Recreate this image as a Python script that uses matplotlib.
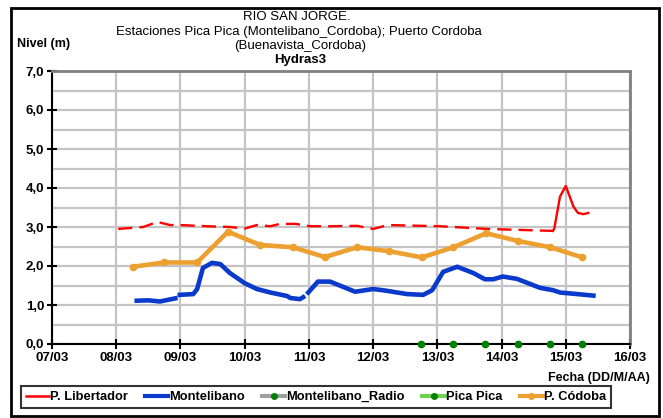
import matplotlib.pyplot as plt
from matplotlib.lines import Line2D
from matplotlib.patches import Rectangle
import numpy as np

plt.rcParams['font.family'] = ['Liberation Sans', 'DejaVu Sans']

# Niveles (m) - dia de marzo en fraccion
lib_dias = [8.03, 8.42, 8.64, 8.84, 8.99, 9.41, 9.77, 10.0, 10.19, 10.40, 10.55, 10.79,
            11.02, 11.33, 11.75, 12.0, 12.23, 13.04, 13.78, 14.80]
lib_nivel = [2.95, 3.0, 3.13, 3.05, 3.05, 3.02, 3.0, 2.96, 3.05, 3.02, 3.08, 3.08,
             3.02, 3.02, 3.03, 2.95, 3.05, 3.02, 2.95, 2.9]
# ultimo tramo P. Libertador
lib2_dias = [14.80, 14.82, 14.91, 15.0, 15.12, 15.19, 15.27, 15.35]
lib2_nivel = [2.9, 2.95, 3.78, 4.05, 3.52, 3.36, 3.33, 3.36]

mon_dias = [8.32, 8.50, 8.68, 8.92, np.nan, 8.99, 9.20, 9.26, 9.35, 9.49, 9.62, 9.77, 10.0,
            10.19, 10.40, 10.66, 10.71, 10.86, 10.91, np.nan, 10.99, 11.14, 11.33, 11.72,
            12.0, 12.19, 12.53, 12.78, 12.92, 13.09, 13.31, 13.56, 13.74, 13.87, 14.02,
            14.24, 14.60, 14.80, 14.91, 15.18, 15.43]
mon_nivel = [1.11, 1.12, 1.09, 1.17, np.nan, 1.26, 1.28, 1.41, 1.95, 2.08, 2.05, 1.82, 1.56,
             1.41, 1.32, 1.23, 1.18, 1.15, 1.20, np.nan, 1.32, 1.60, 1.60, 1.34,
             1.41, 1.37, 1.28, 1.26, 1.38, 1.85, 1.98, 1.82, 1.66, 1.66, 1.73,
             1.67, 1.44, 1.38, 1.32, 1.28, 1.24]

cor_dias = [8.26, 8.74, 9.26, 9.74, 10.24, 10.75, 11.25, 11.75, 12.25, 12.76, 13.25,
            13.76, 14.26, 14.76, 15.26]
cor_nivel = [1.98, 2.09, 2.09, 2.88, 2.54, 2.48, 2.23, 2.48, 2.38, 2.22, 2.48,
             2.84, 2.64, 2.48, 2.22]

pica_dias = [12.75, 13.25, 13.75, 14.25, 14.75, 15.25]
pica_nivel = [0, 0, 0, 0, 0, 0]

dias = list(range(7, 17))
etiquetas = ["%02d/03" % d for d in dias]

rojo = "#ff0000"
azul = "#0a3acc"
naranja = "#eda030"
verde = "#008000"

fig = plt.figure(figsize=(6.63, 4.18), dpi=100)
ax = fig.add_axes([52/663, 1-344/418, 578/663, 273/418])

ax.plot(lib_dias, lib_nivel, color=rojo, lw=1.7, dashes=(6, 3))
ax.plot(lib2_dias, lib2_nivel, color=rojo, lw=1.7)
ax.plot(mon_dias, mon_nivel, color=azul, lw=3.3)
ax.plot(cor_dias, cor_nivel, color=naranja, lw=3.3, marker="o", ms=4.5)
ax.plot(pica_dias, pica_nivel, ls="none", marker="o", ms=4.5, color=verde,
        clip_on=False, zorder=5)

ax.set_xlim(7, 16)
ax.set_ylim(0, 7)
ax.set_xticks(dias)
ax.set_xticklabels(etiquetas)
ax.set_yticks(np.arange(0, 8, 1))
ax.set_yticklabels([("%.1f" % v).replace(".", ",") for v in range(8)])
ax.set_yticks(np.arange(0.5, 7, 1), minor=True)
ax.tick_params(axis="y", which="minor", length=0)
ax.grid(True, which="both", color="#c4c4c4", lw=1.6)
ax.set_axisbelow(True)
for t in ax.get_xticklabels() + ax.get_yticklabels():
    t.set_fontweight("bold")
    t.set_fontsize(9.5)
ax.tick_params(axis="both", which="major", direction="inout", length=7, width=1.5,
               colors="black", pad=2)
ax.spines["left"].set_linewidth(1.5)
ax.spines["bottom"].set_linewidth(1.5)
ax.spines["top"].set_color("#808080")
ax.spines["right"].set_color("#808080")
ax.spines["top"].set_linewidth(2)
ax.spines["right"].set_linewidth(2)

# titulos
fig.text(297/663, 1-17/418, "RIO SAN JORGE.", ha="center", va="center", fontsize=9.5)
fig.text(299/663, 1-32/418, "Estaciones Pica Pica (Montelibano_Cordoba); Puerto Cordoba",
         ha="center", va="center", fontsize=9.5)
fig.text(300/663, 1-46/418, "(Buenavista_Cordoba)", ha="center", va="center", fontsize=9.5)
fig.text(300/663, 1-60/418, "Hydras3", ha="center", va="center", fontsize=9.5,
         fontweight="bold")
fig.text(17/663, 1-44/418, "Nivel (m)", ha="left", va="center", fontsize=9,
         fontweight="bold")
fig.text(650/663, 1-378/418, "Fecha (DD/M/AA)", ha="right", va="center", fontsize=9,
         fontweight="bold")

# marco exterior
fig.patches.append(Rectangle((11/663, 1-416/418), 648/663, 408/418, transform=fig.transFigure,
                             fill=False, ec="black", lw=2))

handles = [
    Line2D([], [], color=rojo, lw=1.8),
    Line2D([], [], color=azul, lw=3),
    Line2D([], [], color="#a0a0a0", lw=3, marker="o", ms=4, mfc=verde, mec=verde),
    Line2D([], [], color="#70d050", lw=3, marker="o", ms=4, mfc=verde, mec=verde),
    Line2D([], [], color=naranja, lw=3, marker="o", ms=4),
]
nombres = ["P. Libertador", "Montelibano", "Montelibano_Radio", "Pica Pica", "P. Códoba"]
leg = fig.legend(handles, nombres, loc="center", bbox_to_anchor=(316/663, 1-397/418),
                 ncol=5, frameon=True, fancybox=False, edgecolor="black",
                 prop={"weight": "bold", "size": 9.3}, handlelength=1.8,
                 handletextpad=0.1, columnspacing=1.3, borderpad=0.4)
leg.get_frame().set_linewidth(1.5)

plt.savefig("out.png", dpi=100)
